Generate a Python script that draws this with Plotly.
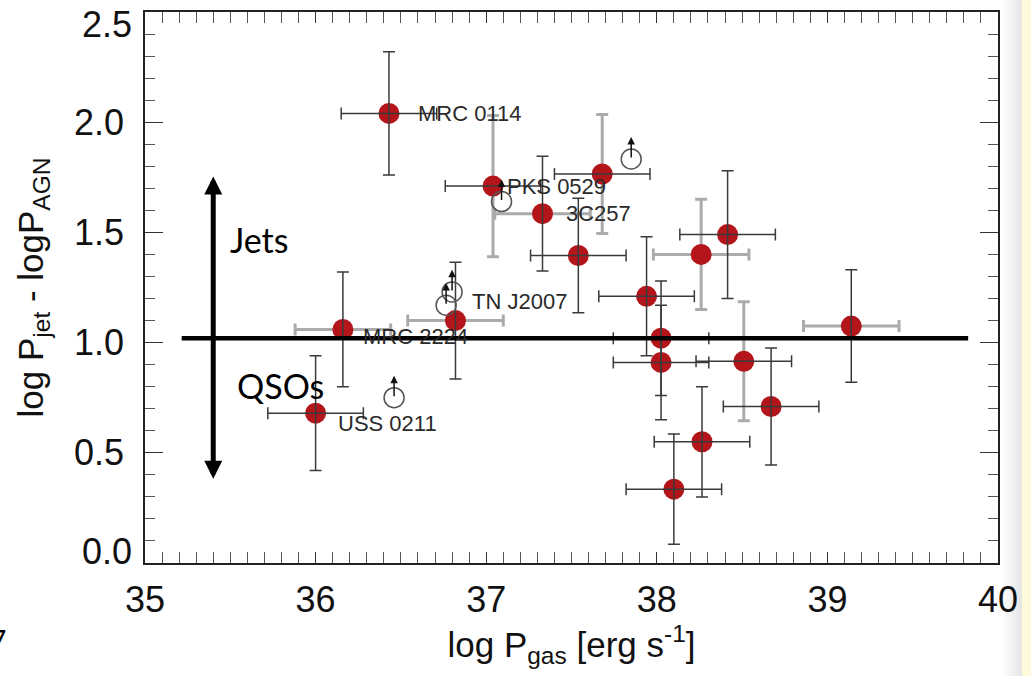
import plotly.graph_objects as go

# ---------------------------------------------------------------------------
# Radio galaxies / QSOs: kinetic jet power excess vs. ionized-gas power
# ---------------------------------------------------------------------------
log_pgas = [36.43, 37.04, 37.33, 37.68, 37.54, 36.82, 36.16, 36.00, 37.94,
            38.26, 38.415, 38.025, 38.025, 38.51, 38.67, 38.265, 38.10, 39.14]
dlogp = [2.04, 1.71, 1.585, 1.765, 1.395, 1.10, 1.06, 0.68, 1.21,
         1.40, 1.49, 1.02, 0.91, 0.915, 0.71, 0.55, 0.335, 1.075]
err_pgas = [0.28, 0.28, 0.28, 0.28, 0.28, 0.28, 0.28, 0.28, 0.28,
            0.28, 0.28, 0.28, 0.28, 0.28, 0.28, 0.28, 0.28, 0.28]
err_dlogp = [0.28, 0.32, 0.26, 0.27, 0.26, 0.265, 0.26, 0.26, 0.27,
             0.25, 0.29, 0.26, 0.26, 0.27, 0.265, 0.25, 0.25, 0.255]
# line style of each error bar ("d" = dark thin, "g" = grey thick)
xerr_kind = ["d", "d", "g", "d", "d", "g", "g", "d", "d",
             "g", "d", "d", "d", "d", "d", "d", "d", "g"]
yerr_kind = ["d", "g", "d", "g", "d", "d", "d", "d", "d",
             "g", "d", "d", "d", "g", "d", "d", "d", "d"]

# named sources: index into the arrays above, label offset (px)
source_names = ["MRC 0114", "PKS 0529", "3C257", "TN J2007", "MRC 2224", "USS 0211"]
source_index = [0, 1, 2, 5, 6, 7]
label_dx = [27, 12, 21, 15, 18, 20]
label_dy = [0, 0, 0, 19, -7, -10]

# lower limits (open circles with upward arrows)
lim_pgas = [37.09, 37.85, 36.80, 36.765, 36.46]
lim_dlogp = [1.64, 1.833, 1.23, 1.17, 0.75]
lim_arrow = 0.1

# dividing line between jet- and QSO-dominated regimes
divide_y = 1.02
divide_x = [35.215, 39.825]
# double arrow on the left
arrow_x = 35.40
arrow_top = 1.754
arrow_bottom = 0.375

x_ticks = [35, 36, 37, 38, 39, 40]
y_ticks = [0.0, 0.5, 1.0, 1.5, 2.0, 2.5]

SANS = "Liberation Sans, Arial, Helvetica, sans-serif"
SLIDE = "Lato, Carlito, Calibri, sans-serif"
RED = "#B3151B"
DARK = "#3a3a3a"
GREY = "#ababab"


def pick(values, kinds, kind):
    return [v for v, k in zip(values, kinds) if k == kind]


def bar_trace(kinds, kind, axis):
    color = DARK if kind == "d" else GREY
    thick = 1.5 if kind == "d" else 3
    err = dict(type="data", array=pick(err_pgas if axis == "x" else err_dlogp, kinds, kind),
               color=color, thickness=thick, width=6, visible=True)
    tr = go.Scatter(x=pick(log_pgas, kinds, kind), y=pick(dlogp, kinds, kind),
                    mode="markers", marker=dict(size=1, opacity=0),
                    showlegend=False, hoverinfo="skip")
    if axis == "x":
        tr.error_x = err
    else:
        tr.error_y = err
    return tr


fig = go.Figure()

# grey error bars sit underneath the symbols
fig.add_trace(bar_trace(xerr_kind, "g", "x"))
fig.add_trace(bar_trace(yerr_kind, "g", "y"))

fig.add_trace(go.Scatter(
    x=log_pgas, y=dlogp, mode="markers",
    marker=dict(size=21, color=RED, line=dict(width=0)),
    showlegend=False, hoverinfo="skip"))

# dark error bars are drawn across the symbols
fig.add_trace(bar_trace(xerr_kind, "d", "x"))
fig.add_trace(bar_trace(yerr_kind, "d", "y"))

fig.add_trace(go.Scatter(
    x=lim_pgas, y=lim_dlogp, mode="markers",
    marker=dict(size=20, color="rgba(0,0,0,0)", line=dict(color="#555555", width=1.5)),
    showlegend=False, hoverinfo="skip"))

# helper traces so the end-label axes are drawn
fig.add_trace(go.Scatter(x=[None], y=[None], yaxis="y2", showlegend=False, hoverinfo="skip"))
fig.add_trace(go.Scatter(x=[None], y=[None], yaxis="y3", showlegend=False, hoverinfo="skip"))

annotations = []
for name, i, dx, dy in zip(source_names, source_index, label_dx, label_dy):
    annotations.append(dict(x=log_pgas[i], y=dlogp[i], xref="x", yref="y", text=name,
                            showarrow=False, xanchor="left", yanchor="middle",
                            xshift=dx, yshift=dy,
                            font=dict(family=SANS, size=22, color="#2a2a2a")))

for lx, ly in zip(lim_pgas, lim_dlogp):
    annotations.append(dict(x=lx, y=ly + lim_arrow, ax=lx, ay=ly, xref="x", yref="y",
                            axref="x", ayref="y", text="", showarrow=True,
                            arrowhead=2, arrowsize=1, arrowwidth=1.5, arrowcolor="#111111",
                            standoff=0, startstandoff=0))

annotations.append(dict(x=arrow_x, y=arrow_top, ax=arrow_x, ay=arrow_bottom,
                        xref="x", yref="y", axref="x", ayref="y", text="",
                        showarrow=True, arrowside="end+start",
                        arrowhead=2, startarrowhead=2, arrowsize=0.72, startarrowsize=0.72,
                        arrowwidth=5, arrowcolor="#000000", standoff=0, startstandoff=0))

annotations.append(dict(x=35.487, y=1.466, xref="x", yref="y", text="Jets",
                        showarrow=False, xanchor="left", yanchor="middle",
                        font=dict(family=SLIDE, size=34, color="#000000")))
annotations.append(dict(x=35.528, y=0.807, xref="x", yref="y", text="QSOs",
                        showarrow=False, xanchor="left", yanchor="middle",
                        font=dict(family=SLIDE, size=34, color="#000000")))

PLOT_L, PLOT_W = 145, 853
PLOT_B, PLOT_H = 563, 551
annotations.append(dict(x=(8 - PLOT_L) / PLOT_W, y=(PLOT_B - 640) / PLOT_H,
                        xref="paper", yref="paper", text="7",
                        showarrow=False, xanchor="right", yanchor="middle",
                        font=dict(family=SLIDE, size=28, color="#000000")))

shapes = [dict(type="line", xref="x", yref="y", x0=divide_x[0], x1=divide_x[1],
               y0=divide_y, y1=divide_y, line=dict(color="#000000", width=4.5),
               layer="above")]

# slide edge on the right: soft grey shadow then pale yellow band
edge_cols = ["#FDFDFD", "#FAFAFA", "#F6F6F6", "#F2F2F2", "#EEEEEE", "#EAEAEA", "#E6E6E6"]
for k, c in enumerate(edge_cols):
    x0 = (1001 + 3 * k - PLOT_L) / PLOT_W
    x1 = (1004 + 3 * k - PLOT_L) / PLOT_W
    shapes.append(dict(type="rect", xref="paper", yref="paper", x0=x0, x1=x1,
                       y0=-0.4, y1=1.2, fillcolor=c, line=dict(width=0), layer="below"))
shapes.append(dict(type="rect", xref="paper", yref="paper",
                   x0=(1022 - PLOT_L) / PLOT_W, x1=(1040 - PLOT_L) / PLOT_W,
                   y0=-0.4, y1=1.2, fillcolor="#FDFBDA", line=dict(width=0), layer="below"))

axis_common = dict(showgrid=False, zeroline=False, showline=True, linecolor="#222222",
                   linewidth=1.5, mirror="allticks", ticks="inside", tickcolor="#333333",
                   tickwidth=1.3, tickfont=dict(family=SANS, size=36, color="#111111"))

fig.update_layout(
    width=1031, height=676,
    margin=dict(l=PLOT_L, r=1031 - PLOT_L - PLOT_W, t=12, b=676 - PLOT_B, autoexpand=False),
    paper_bgcolor="white", plot_bgcolor="white",
    xaxis=dict(range=[35, 40], tickmode="array", tickvals=x_ticks,
               ticktext=[str(v) for v in x_ticks], ticklen=11,
               minor=dict(ticks="inside", ticklen=5, tick0=35, dtick=0.1,
                          tickcolor="#555555", tickwidth=1),
               ticklabelstandoff=4,
               title=dict(text="log P<sub>gas</sub> [erg s<sup>-1</sup>]", standoff=13,
                          font=dict(family=SANS, size=35, color="#111111")),
               **axis_common),
    yaxis=dict(range=[0, 2.5], tickmode="array", tickvals=y_ticks,
               ticktext=["", "0.5", "1.0", "1.5", "2.0", ""], ticklen=18,
               minor=dict(ticks="inside", ticklen=10, tick0=0, dtick=0.1,
                          tickcolor="#555555", tickwidth=1),
               ticklabelstandoff=12,
               title=dict(text="log P<sub>jet</sub> - logP<sub>AGN</sub>", standoff=20,
                          font=dict(family=SANS, size=35, color="#111111")),
               **axis_common),
    yaxis2=dict(overlaying="y", range=[0, 2.5], tickmode="array", tickvals=[y_ticks[0]],
                ticktext=["0.0"], ticks="", showline=False, showgrid=False, zeroline=False,
                ticklabelshift=-12, ticklabelstandoff=12,
                tickfont=dict(family=SANS, size=36, color="#111111")),
    yaxis3=dict(overlaying="y", range=[0, 2.5], tickmode="array", tickvals=[y_ticks[-1]],
                ticktext=["2.5"], ticks="", showline=False, showgrid=False, zeroline=False,
                ticklabelshift=12, ticklabelstandoff=12,
                tickfont=dict(family=SANS, size=36, color="#111111")),
    annotations=annotations,
    shapes=shapes,
)

fig.write_html("out.html")
